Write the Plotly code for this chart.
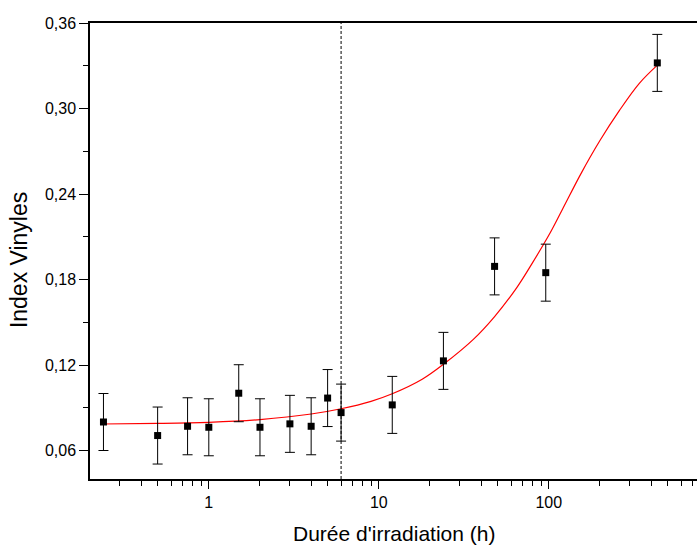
import math
import plotly.graph_objects as go

# Measured data
hours = [0.24, 0.5, 0.75, 1, 1.5, 2, 3, 4, 5, 6, 12, 24, 48, 96, 435]
vinyl_index = [0.080, 0.0705, 0.077, 0.0763, 0.1002, 0.0763, 0.0787, 0.077,
               0.0968, 0.0866, 0.092, 0.1229, 0.1892, 0.1848, 0.332]
vinyl_err = [0.02] * len(hours)

# Fitted curve
fit_hours = [0.236, 0.5, 1, 2, 4, 6, 9, 12, 18, 24, 36, 48, 65, 80, 100,
             120, 155, 200, 260, 340, 437]
fit_index = [0.0786, 0.0790, 0.0798, 0.0817, 0.0856, 0.0893, 0.0945, 0.0998,
             0.1100, 0.1205, 0.1380, 0.1540, 0.1745, 0.1915, 0.2110, 0.2290,
             0.2545, 0.2775, 0.2985, 0.3175, 0.3306]

threshold_h = 6

x_major = [1, 10, 100]
x_major_text = ["1", "10", "100"]
x_minor = [0.3, 0.4, 0.5, 0.6, 0.7, 0.8, 0.9,
           2, 3, 4, 5, 6, 7, 8, 9,
           20, 30, 40, 50, 60, 70, 80, 90,
           200, 300, 400, 500, 600, 700]
y_major = [0.06, 0.12, 0.18, 0.24, 0.30, 0.36]
y_minor = [0.09, 0.15, 0.21, 0.27, 0.33]

FONT = "Liberation Sans, Arial, sans-serif"

fig = go.Figure()
fig.add_trace(go.Scatter(
    x=fit_hours, y=fit_index, mode="lines",
    line=dict(color="#ff0000", width=1.2, shape="spline", smoothing=1.0),
    showlegend=False, hoverinfo="skip"))
fig.add_trace(go.Scatter(
    x=hours, y=vinyl_index, mode="markers",
    marker=dict(symbol="square", size=7, color="black"),
    error_y=dict(type="data", array=vinyl_err, visible=True,
                 color="black", thickness=1, width=5),
    showlegend=False))

fig.add_shape(type="line", xref="x", yref="paper",
              x0=threshold_h, x1=threshold_h, y0=0, y1=1,
              line=dict(color="black", width=1, dash="3px,2px"))

fig.add_annotation(text="Durée d'irradiation (h)", xref="paper", yref="paper",
                   x=0.5, y=0, xanchor="center", yanchor="middle", yshift=-54,
                   showarrow=False, font=dict(size=21))
fig.add_annotation(text="Index Vinyles", xref="paper", yref="paper",
                   x=0, y=0.48, xanchor="center", yanchor="middle", xshift=-71,
                   textangle=-90, showarrow=False, font=dict(size=23))

fig.update_layout(
    width=697, height=545,
    margin=dict(l=90, r=0, t=23, b=66),
    paper_bgcolor="white", plot_bgcolor="white",
    separators=", ",
    font=dict(family=FONT, size=16, color="black"),
)
fig.update_xaxes(
    type="log", automargin=False,
    range=[math.log10(0.2), 2.872],
    tickmode="array", tickvals=x_major, ticktext=x_major_text,
    ticks="outside", ticklen=8, tickwidth=1.2, tickcolor="black",
    minor=dict(tickmode="array", tickvals=x_minor, ticks="outside",
               ticklen=5, tickwidth=1, tickcolor="black", showgrid=False),
    showline=True, linecolor="black", linewidth=1.5, mirror=True,
    showgrid=False, zeroline=False,
    tickfont=dict(size=16),
)
fig.update_yaxes(
    range=[0.04, 0.36], automargin=False,
    tickmode="array", tickvals=y_major, tickformat=".2f",
    ticks="outside", ticklen=9, tickwidth=1.2, tickcolor="black",
    minor=dict(tickmode="array", tickvals=y_minor, ticks="outside",
               ticklen=5, tickwidth=1, tickcolor="black", showgrid=False),
    showline=True, linecolor="black", linewidth=1.5,
    showgrid=False, zeroline=False,
    tickfont=dict(size=16),
)

fig.write_html(
    "out.html",
    config={"displayModeBar": False},
    post_script="document.body.style.margin='0';document.body.style.overflow='hidden';",
)
